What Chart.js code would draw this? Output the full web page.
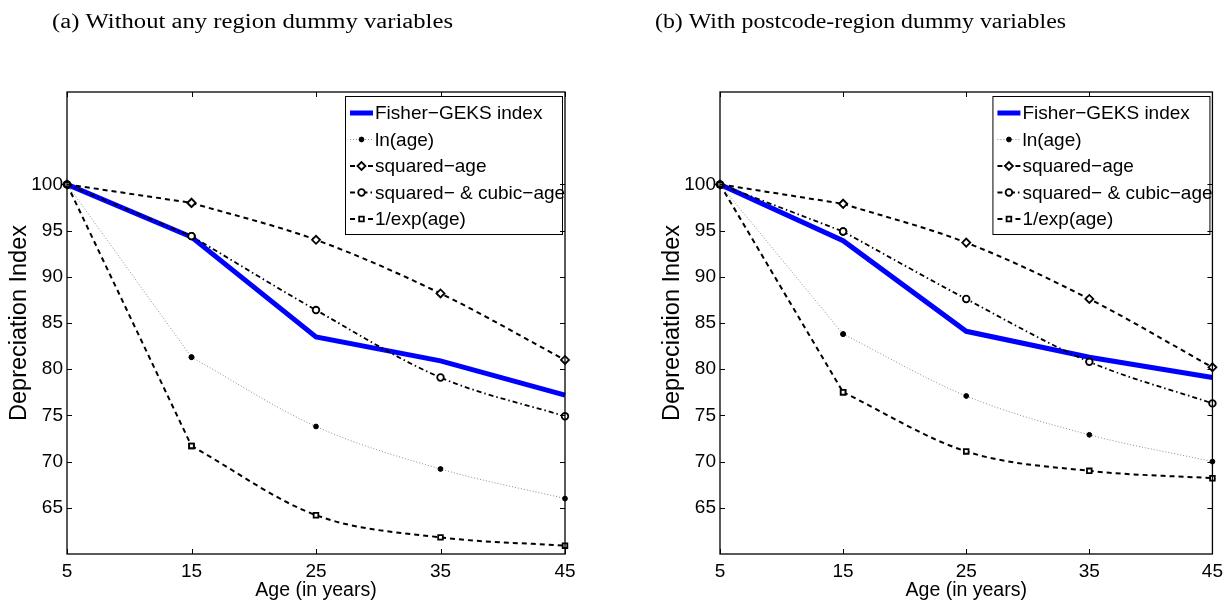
<!DOCTYPE html>
<html>
<head>
<meta charset="utf-8">
<script src="https://cdn.jsdelivr.net/npm/chart.js@4.4.1/dist/chart.umd.min.js"></script>
<style>
  html, body { margin: 0; padding: 0; background: #fff; }
  #wrap { position: relative; width: 1229px; height: 605px; overflow: hidden; background: #fff; }
  #wrap canvas { position: absolute; top: 0; }
</style>
</head>
<body>
<div id="wrap">
  <canvas id="chartA" width="615" height="605" style="left:0px"></canvas>
  <canvas id="chartB" width="614" height="605" style="left:615px"></canvas>
</div>
<script>
// Vehicle age (years) and the y tick marks shown on both panels
const ages = [5, 15, 25, 35, 45];
const yTickValues = [65, 70, 75, 80, 85, 90, 95, 100];

const seriesNames = ['Fisher\u2212GEKS index', 'ln(age)', 'squared\u2212age',
                     'squared\u2212 & cubic\u2212age', '1/exp(age)'];

// Panel (a): no region dummies
const fisherA = [100, 94.3, 83.5, 80.9, 77.2];
const lnAgeA  = [100, 81.3, 73.8, 69.2, 66.0];
const sqAgeA  = [100, 98.0, 94.0, 88.2, 81.0];
const cubAgeA = [100, 94.4, 86.4, 79.1, 74.9];
const expAgeA = [100, 71.7, 64.2, 61.8, 60.9];

// Panel (b): postcode-region dummies
const fisherB = [100, 93.9, 84.1, 81.3, 79.1];
const lnAgeB  = [100, 83.8, 77.1, 72.9, 70.0];
const sqAgeB  = [100, 97.9, 93.7, 87.6, 80.2];
const cubAgeB = [100, 94.9, 87.6, 80.8, 76.3];
const expAgeB = [100, 77.5, 71.1, 69.0, 68.2];

const FONT_SANS = '"Liberation Sans", Arial, Helvetica, sans-serif';
const FONT_SERIF = '"Liberation Serif", "Times New Roman", serif';

// Line / marker styles for the five series
const seriesStyles = [
  { borderColor: '#0000ff', borderWidth: 5, pointRadius: 0, borderDash: [], tension: 0, order: 10 },
  { borderColor: '#8c8c8c', borderWidth: 1, borderDash: [1, 2], pointStyle: 'circle', pointRadius: 2.4,
    pointBackgroundColor: '#000', pointBorderColor: '#000', pointBorderWidth: 1, cubicInterpolationMode: 'monotone', order: 3 },
  { borderColor: '#000', borderWidth: 2, borderDash: [5, 4], pointStyle: 'rectRot', pointRadius: 4,
    pointBackgroundColor: '#fff', pointBorderColor: '#000', pointBorderWidth: 1.8, cubicInterpolationMode: 'monotone', order: 2 },
  { borderColor: '#000', borderWidth: 1.8, borderDash: [5, 3, 1.5, 3], pointStyle: 'circle', pointRadius: 3.3,
    pointBackgroundColor: '#fff', pointBorderColor: '#000', pointBorderWidth: 1.8, cubicInterpolationMode: 'monotone', order: 1 },
  { borderColor: '#000', borderWidth: 2, borderDash: [5, 4], pointStyle: 'rect', pointRadius: 3.3,
    pointBackgroundColor: '#fff', pointBorderColor: '#000', pointBorderWidth: 1.8, cubicInterpolationMode: 'monotone', order: 0 }
];

const CAPTION_FONT = '20.5px ' + FONT_SERIF;

// Legend box, inward tick marks, axes frame and panel caption
const panelDecor = {
  id: 'panelDecor',
  afterDatasetsDraw(chart, args, opts) {
    const { ctx, chartArea: a, scales: { x, y } } = chart;
    ctx.save();

    // legend
    const lw = 218, lh = 139;
    const lx = a.right - 2 - lw, ly = a.top + 4;
    ctx.fillStyle = '#fff';
    ctx.fillRect(lx, ly, lw, lh);
    ctx.strokeStyle = '#000';
    ctx.lineWidth = 1;
    ctx.setLineDash([]);
    ctx.strokeRect(lx + 0.5, ly + 0.5, lw - 1, lh - 1);
    ctx.font = '19px ' + FONT_SANS;
    ctx.textBaseline = 'middle';
    ctx.textAlign = 'left';
    seriesStyles.forEach((st, i) => {
      const cy = ly + 17 + i * 26.5;
      const x0 = lx + 5, x1 = lx + 28, xm = (x0 + x1) / 2;
      ctx.save();
      ctx.strokeStyle = st.borderColor;
      ctx.lineWidth = st.borderWidth;
      ctx.setLineDash(st.borderDash || []);
      ctx.beginPath();
      ctx.moveTo(x0, cy);
      ctx.lineTo(x1, cy);
      ctx.stroke();
      ctx.setLineDash([]);
      if (st.pointRadius > 0) {
        ctx.fillStyle = st.pointBackgroundColor;
        ctx.strokeStyle = st.pointBorderColor;
        ctx.lineWidth = st.pointBorderWidth;
        Chart.helpers.drawPoint(ctx, { pointStyle: st.pointStyle, radius: st.pointRadius, rotation: 0, borderWidth: st.pointBorderWidth }, xm, cy);
      }
      ctx.restore();
      ctx.fillStyle = '#000';
      ctx.fillText(seriesNames[i], x1 + 2, cy + 1);
    });

    // frame and inward ticks
    ctx.setLineDash([]);
    ctx.strokeStyle = '#000';
    ctx.lineWidth = 1.3;
    ctx.strokeRect(a.left, a.top, a.right - a.left, a.bottom - a.top);
    ctx.lineWidth = 1;
    ctx.beginPath();
    ages.forEach(v => {
      const px = Math.round(x.getPixelForValue(v)) + 0.5;
      ctx.moveTo(px, a.bottom); ctx.lineTo(px, a.bottom - 5);
      ctx.moveTo(px, a.top); ctx.lineTo(px, a.top + 5);
    });
    yTickValues.forEach(v => {
      const py = Math.round(y.getPixelForValue(v)) + 0.5;
      ctx.moveTo(a.left, py); ctx.lineTo(a.left + 5, py);
      ctx.moveTo(a.right, py); ctx.lineTo(a.right - 5, py);
    });
    ctx.stroke();

    // caption above the panel, stretched to its set width
    ctx.fillStyle = '#000';
    ctx.font = CAPTION_FONT;
    ctx.textBaseline = 'alphabetic';
    ctx.textAlign = 'center';
    const sx = opts.captionWidth / ctx.measureText(opts.caption).width;
    ctx.translate(opts.captionX, 28);
    ctx.scale(sx, 1);
    ctx.fillText(opts.caption, 0, 0);
    ctx.restore();
  }
};

// Fisher index is a plain polyline; each fitted curve is a straight first
// interval followed by a smooth curve through the remaining ages.
function buildDatasets(cols) {
  const out = [];
  cols.forEach((vals, i) => {
    const pts = ages.map((a, j) => ({ x: a, y: vals[j] }));
    const base = { label: seriesNames[i], fill: false, clip: false };
    if (i === 0) {
      out.push(Object.assign({}, base, seriesStyles[i], { data: pts }));
      return;
    }
    out.push(Object.assign({}, base, seriesStyles[i],
      { data: pts.slice(0, 2), cubicInterpolationMode: 'default', tension: 0 }));
    out.push(Object.assign({}, base, seriesStyles[i], { data: pts.slice(1) }));
  });
  return out;
}

function makePanel(id, cols, caption, captionX, captionWidth, padLeft, padRight) {
  return new Chart(document.getElementById(id), {
    type: 'line',
    data: { datasets: buildDatasets(cols) },
    options: {
      responsive: false,
      animation: false,
      devicePixelRatio: 1,
      layout: { padding: { top: 92, right: padRight, left: padLeft, bottom: 0 } },
      plugins: {
        legend: { display: false },
        tooltip: { enabled: false },
        panelDecor: { caption: caption, captionX: captionX, captionWidth: captionWidth }
      },
      scales: {
        x: {
          type: 'linear', min: 5, max: 45,
          afterBuildTicks: s => { s.ticks = ages.map(v => ({ value: v })); },
          afterFit: s => { s.height = 51; },
          grid: { display: false, drawTicks: false },
          border: { display: false },
          ticks: { color: '#000', padding: 6, maxRotation: 0, autoSkip: false,
                   font: { family: FONT_SANS, size: 19 } },
          title: { display: true, text: 'Age (in years)', color: '#000',
                   font: { family: FONT_SANS, size: 19.5 }, padding: { top: 0, bottom: 3 } }
        },
        y: {
          min: 60, max: 110,
          afterBuildTicks: s => { s.ticks = yTickValues.map(v => ({ value: v })); },
          afterFit: s => { s.width = 67; },
          grid: { display: false, drawTicks: false },
          border: { display: false },
          ticks: { color: '#000', padding: 4, autoSkip: false,
                   font: { family: FONT_SANS, size: 19 } },
          title: { display: true, text: 'Depreciation Index', color: '#000',
                   font: { family: FONT_SANS, size: 23.5 }, padding: { top: 5, bottom: 0 } }
        }
      }
    },
    plugins: [panelDecor]
  });
}

makePanel('chartA', [fisherA, lnAgeA, sqAgeA, cubAgeA, expAgeA],
          '(a) Without any region dummy variables', 252.5, 401, 0, 50);
makePanel('chartB', [fisherB, lnAgeB, sqAgeB, cubAgeB, expAgeB],
          '(b) With postcode-region dummy variables', 245.5, 411, 38, 11);
</script>
</body>
</html>
